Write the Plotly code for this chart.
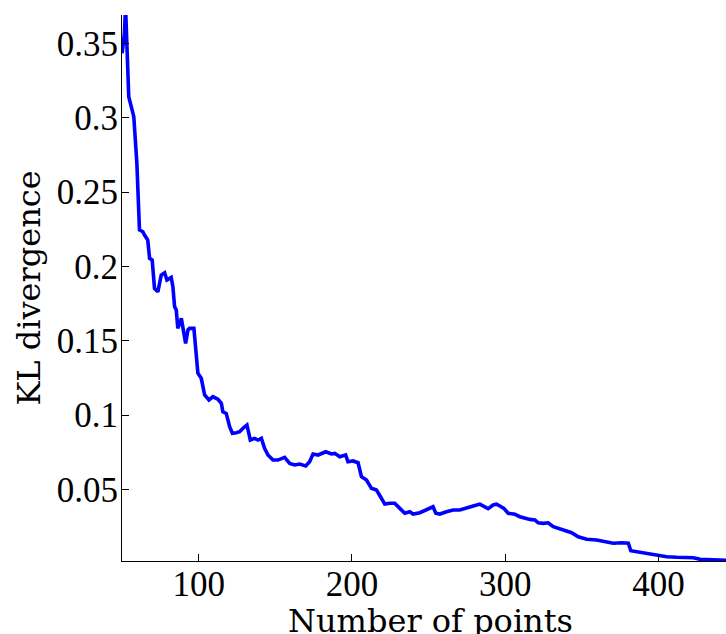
import plotly.graph_objects as go

# Number of points (x) and KL divergence (y)
num_points = [50.1, 51.6, 52.3, 53.4, 54.4, 57.7, 59.7, 61.4, 63.6, 64.7, 66.8, 68.0, 69.7, 71.2, 73.4,
              75.6, 77.8, 79.3, 82.1, 83.2, 84.3, 85.4, 86.4, 88.7, 89.7, 91.5, 93.0, 94.1, 96.9, 99.5,
              101.7, 103.9, 106.7, 109.3, 112.6, 114.8, 115.8, 118.0, 120.2, 122.0, 124.6, 126.7, 128.9,
              131.5, 133.7, 136.5, 138.7, 140.9, 143.0, 145.2, 148.5, 151.7, 156.1, 159.4, 162.6, 165.9,
              169.8, 172.4, 174.6, 177.9, 182.9, 186.6, 188.8, 192.0, 195.9, 197.4, 200.7, 204.0, 206.2,
              209.5, 212.7, 216.0, 219.2, 221.4, 224.7, 227.9, 231.2, 234.5, 237.7, 239.9, 244.3, 248.6,
              252.9, 254.7, 257.3, 261.7, 266.0, 270.4, 274.7, 279.1, 283.4, 286.7, 288.8, 292.1, 294.3,
              296.5, 299.1, 301.9, 306.3, 309.5, 312.8, 316.1, 319.3, 321.5, 324.8, 328.0, 331.3, 334.6,
              340.0, 343.3, 347.6, 353.1, 359.6, 365.0, 370.5, 376.0, 380.3, 381.9, 385.8, 390.1, 396.6,
              401.0, 405.3, 411.9, 418.4, 422.7, 427.1, 435.8, 444.0]
kl_divergence = [0.3433, 0.357, 0.375, 0.3478, 0.3141, 0.3007, 0.2693, 0.2245, 0.2233, 0.2211, 0.2177,
                 0.2054, 0.2043, 0.1852, 0.1829, 0.1942, 0.1957, 0.1908, 0.1926, 0.1863, 0.1729, 0.1706,
                 0.1583, 0.1650, 0.1583, 0.1482, 0.1572, 0.1583, 0.1583, 0.1281, 0.1247, 0.1135, 0.1101,
                 0.1123, 0.1106, 0.1079, 0.1022, 0.1011, 0.0921, 0.0877, 0.0881, 0.0888, 0.0911, 0.0933,
                 0.0832, 0.0843, 0.0832, 0.0843, 0.0776, 0.0731, 0.0697, 0.0697, 0.0715, 0.0675, 0.0664,
                 0.0670, 0.0657, 0.0686, 0.0738, 0.0731, 0.0753, 0.0738, 0.0742, 0.0719, 0.0731, 0.0686,
                 0.0691, 0.0679, 0.0585, 0.0563, 0.0507, 0.0495, 0.0440, 0.0401, 0.0406, 0.0406, 0.0372,
                 0.0339, 0.0349, 0.0334, 0.0343, 0.0361, 0.0383, 0.0339, 0.0334, 0.0349, 0.0361, 0.0361,
                 0.0372, 0.0388, 0.0401, 0.0383, 0.0370, 0.0395, 0.0401, 0.0388, 0.0372, 0.0339, 0.0332,
                 0.0316, 0.0305, 0.0298, 0.0294, 0.0275, 0.0271, 0.0275, 0.0249, 0.0238, 0.0222, 0.0208,
                 0.0181, 0.0164, 0.0159, 0.0148, 0.0137, 0.0141, 0.0137, 0.0087, 0.0080, 0.0070, 0.0058,
                 0.0051, 0.0047, 0.0043, 0.0043, 0.0040, 0.0029, 0.0025, 0.0023]

x_tickvals = [100, 200, 300, 400]
x_ticktext = ["100", "200", "300", "400"]
y_tickvals = [0.05, 0.1, 0.15, 0.2, 0.25, 0.3, 0.35]
y_ticktext = ["0.05", "0.1", "0.15", "0.2", "0.25", "0.3", "0.35"]
x_title = "Number of points"
y_title = "KL divergence"

tick_font = dict(family="Liberation Serif", size=35, color="black")
title_font = dict(family="DejaVu Serif", size=32, color="black")

fig = go.Figure()
fig.add_trace(go.Scatter(
    x=num_points, y=kl_divergence, mode="lines",
    line=dict(color="#0000FF", width=3.6),
    showlegend=False,
))

fig.update_layout(
    width=726, height=634,
    margin=dict(l=122, r=0, t=15, b=73),
    paper_bgcolor="white", plot_bgcolor="white",
    font=tick_font,
)
fig.update_xaxes(
    range=[50, 444], tickvals=x_tickvals, ticktext=x_ticktext, tickfont=tick_font,
    ticks="inside", ticklen=7, tickwidth=1, tickcolor="black", ticklabelstandoff=-8,
    showline=True, linecolor="black", linewidth=1, mirror=False,
    showgrid=False, zeroline=False,
)
fig.update_yaxes(
    range=[0.0018, 0.3691], tickvals=y_tickvals, ticktext=y_ticktext, tickfont=tick_font,
    ticks="inside", ticklen=7, tickwidth=1, tickcolor="black", ticklabelstandoff=-4,
    showline=True, linecolor="black", linewidth=1, mirror=False,
    showgrid=False, zeroline=False,
    title=dict(text=y_title, font=title_font, standoff=6),
)
fig.add_annotation(
    text=x_title, font=title_font, showarrow=False,
    xref="paper", yref="paper", x=0.51, y=0, xanchor="center", yanchor="top",
    yshift=-39,
)

fig.write_html("out.html")
